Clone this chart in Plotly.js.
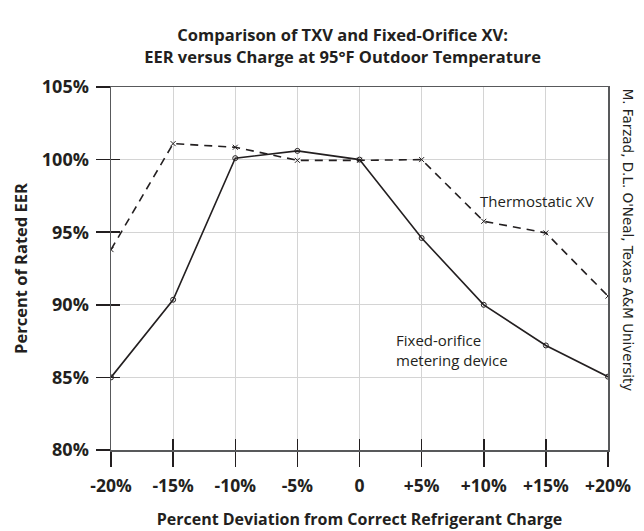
<!DOCTYPE html>
<html>
<head>
<meta charset="utf-8">
<script src="https://cdn.plot.ly/plotly-3.0.1.min.js"></script>
<style>html,body{margin:0;padding:0;background:#fff;}#chart{width:644px;height:531px;}</style>
</head>
<body>
<div id="chart"></div>
<script>
// Data
const charge = [-20, -15, -10, -5, 0, 5, 10, 15, 20];
const fixedOrifice = [85.0, 90.35, 100.1, 100.6, 100.0, 94.6, 90.0, 87.2, 85.05];
const thermostaticXV = [93.8, 101.1, 100.85, 99.95, 99.95, 100.0, 95.75, 94.95, 90.6];
const xTickVals = [-20, -15, -10, -5, 0, 5, 10, 15, 20];
const xTickText = ['-20%', '-15%', '-10%', '-5%', '0', '+5%', '+10%', '+15%', '+20%'];
const yTickVals = [80, 85, 90, 95, 100, 105];
const yTickText = ['80%', '85%', '90%', '95%', '100%', '105%'];

const cond = '"Open Sans", sans-serif';
const ink = '#231f20';

const traces = [
  {
    x: charge, y: thermostaticXV, type: 'scatter', mode: 'lines+markers',
    name: 'Thermostatic XV',
    line: {color: ink, width: 1.6, dash: '8px,6px'},
    marker: {symbol: 'x-thin-open', size: 5, color: ink, line: {color: ink, width: 1}},
    hoverinfo: 'skip'
  },
  {
    x: charge, y: fixedOrifice, type: 'scatter', mode: 'lines+markers',
    name: 'Fixed-orifice metering device',
    line: {color: ink, width: 1.6},
    marker: {symbol: 'circle-open', size: 5, color: ink, line: {color: ink, width: 1}},
    hoverinfo: 'skip'
  },
  {
    x: charge, y: fixedOrifice, type: 'scatter', mode: 'markers',
    xaxis: 'x2', yaxis: 'y2', marker: {opacity: 0}, hoverinfo: 'skip', showlegend: false
  }
];

const layout = {
  width: 644, height: 531,
  margin: {l: 111, r: 36, t: 87, b: 81},
  paper_bgcolor: '#fff', plot_bgcolor: '#fff',
  showlegend: false,
  title: {
    text: '<b>Comparison of TXV and Fixed-Orifice XV:<br>EER versus Charge at 95°F Outdoor Temperature</b>',
    font: {family: cond, size: 16.5, color: ink},
    x: 0.532, xanchor: 'center', y: 0.922, yanchor: 'top'
  },
  xaxis: {
    range: [-20, 20], tickvals: xTickVals, ticktext: xTickText,
    showgrid: true, gridcolor: '#d4d4d4', gridwidth: 1,
    zeroline: false,
    showline: true, linecolor: '#58595b', linewidth: 1.5, mirror: true,
    ticks: 'outside', ticklen: 15, tickwidth: 1.5, tickcolor: ink,
    ticklabelstandoff: 4,
    tickfont: {family: cond, size: 17.5, color: ink, weight: 'bold'},
    title: {text: '<b>Percent Deviation from Correct Refrigerant Charge</b>', font: {family: cond, size: 16, color: ink}, standoff: 18}
  },
  yaxis: {
    range: [80, 105], tickvals: yTickVals, ticktext: yTickText,
    showgrid: true, gridcolor: '#d4d4d4', gridwidth: 1,
    zeroline: false,
    showline: true, linecolor: '#58595b', linewidth: 1.5, mirror: true,
    ticks: 'outside', ticklen: 14, tickwidth: 1.5, tickcolor: ink,
    ticklabelstandoff: 3,
    tickfont: {family: cond, size: 18, color: ink, weight: 'bold'},
    title: {text: '<b>Percent of Rated EER</b>', font: {family: '"Open Sans", sans-serif', size: 16.5, color: ink}, standoff: 10}
  },
  xaxis2: {
    overlaying: 'x', anchor: 'y2', range: [-20, 20], tickvals: xTickVals,
    showticklabels: false, showgrid: false, zeroline: false, showline: false,
    ticks: 'inside', ticklen: 11, tickwidth: 1.5, tickcolor: ink
  },
  yaxis2: {
    overlaying: 'y', anchor: 'x2', range: [80, 105], tickvals: yTickVals,
    showticklabels: false, showgrid: false, zeroline: false, showline: false,
    ticks: 'inside', ticklen: 9, tickwidth: 1.5, tickcolor: ink
  },
  annotations: [
    {text: 'Thermostatic XV', x: 9.5, y: 97.15, xref: 'x', yref: 'y', xanchor: 'left', yanchor: 'middle',
     showarrow: false, font: {family: cond, size: 15, color: ink}},
    {text: 'Fixed-orifice<br>metering device', x: 2.75, y: 86.9, xref: 'x', yref: 'y', xanchor: 'left', yanchor: 'middle', align: 'left',
     showarrow: false, font: {family: cond, size: 15, color: ink}},
    {text: "M. Farzad, D.L. O'Neal, Texas A&M University", x: 1.042, y: 1.0, xref: 'paper', yref: 'paper',
     xanchor: 'center', yanchor: 'top',
     showarrow: false, textangle: 90, font: {family: '"DejaVu Sans", sans-serif', size: 13.5, color: ink}}
  ]
};

Plotly.newPlot('chart', traces, layout, {staticPlot: true, displayModeBar: false});
</script>
</body>
</html>
